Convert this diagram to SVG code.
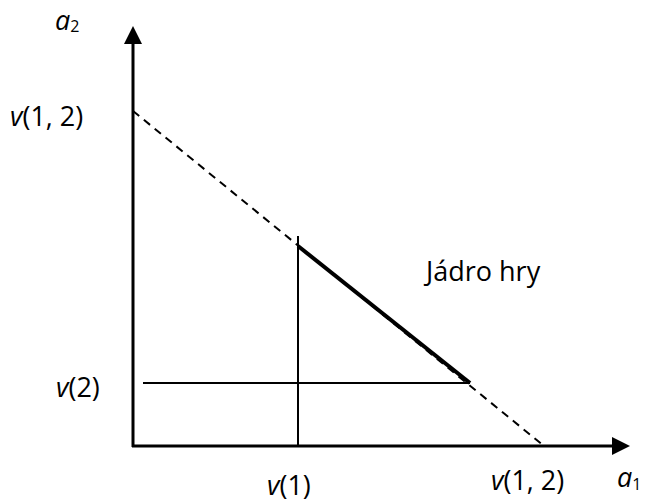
<svg xmlns="http://www.w3.org/2000/svg" width="656" height="502" viewBox="0 0 656 502">
<style>
text{font-family:"Open Sans","Liberation Sans",sans-serif;font-size:27px;fill:#000}
.i{font-style:italic}
.s{font-size:16px}
.ax{stroke:#000;stroke-width:3;fill:none}
.ln{stroke:#000;stroke-width:2;fill:none}
</style>
<defs>
<marker id="ah" markerWidth="6" markerHeight="6" refX="0" refY="3" orient="auto" markerUnits="strokeWidth"><path d="M0,0 L6,3 L0,6 z" fill="#000"/></marker>
</defs>
<rect width="656" height="502" fill="#fff"/>
<g id="connectors">
<line class="ax" x1="133" y1="447" x2="133" y2="44" marker-end="url(#ah)"/>
<line class="ax" x1="132" y1="446" x2="612" y2="446" marker-end="url(#ah)"/>
<line class="ln" x1="133" y1="111" x2="544" y2="446" stroke-dasharray="8,6"/>
<line class="ln" x1="298" y1="236" x2="298" y2="446"/>
<line class="ln" x1="143" y1="383" x2="470" y2="383"/>
<line stroke="#000" stroke-width="4" x1="298" y1="246" x2="470" y2="383"/>
</g>
<g id="labels">
<text x="55" y="30"><tspan class="i">a</tspan><tspan class="s" dy="2">2</tspan></text>
<text x="10" y="126"><tspan class="i">v</tspan>(1, 2)</text>
<text x="56" y="397"><tspan class="i">v</tspan>(2)</text>
<text x="267" y="495"><tspan class="i">v</tspan>(1)</text>
<text x="491" y="490"><tspan class="i">v</tspan>(1, 2)</text>
<text x="617" y="487"><tspan class="i">a</tspan><tspan class="s" dy="3">1</tspan></text>
<text x="426" y="281">Jádro hry</text>
</g>
</svg>
